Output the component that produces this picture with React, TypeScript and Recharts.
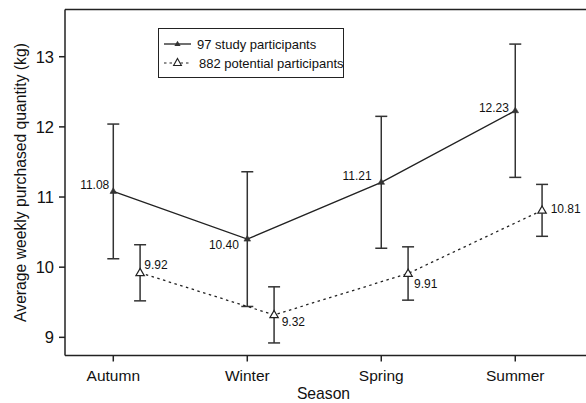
import React from 'react';
import { LineChart, Line, XAxis, YAxis, ErrorBar, Legend, ReferenceLine } from 'recharts';

const seasons = ['Autumn', 'Winter', 'Spring', 'Summer'];
const seasonTicks = [0, 1, 2, 3];
const yTicks = [9, 10, 11, 12, 13];
const seriesNames = ['97 study participants', '882 potential participants'];
const studyMeans = [11.08, 10.4, 11.21, 12.23];
const studyErrors = [0.96, 0.96, 0.94, 0.95];
const potentialMeans = [9.92, 9.32, 9.91, 10.81];
const potentialErrors = [0.4, 0.4, 0.38, 0.37];

const POT_SHIFT = 0.2;
const studyData = studyMeans.map((v, i) => ({ x: seasonTicks[i], y: v, err: studyErrors[i] }));
const potentialData = potentialMeans.map((v, i) => ({ x: seasonTicks[i] + POT_SHIFT, y: v, err: potentialErrors[i] }));

const FONT = '"Liberation Sans", Arial, Helvetica, sans-serif';
const INK = '#222';

// label placement (dx, dy of text centre) relative to each point
const studyLabelOffsets = [[-4, -6.3], [-8.3, 5.3], [-9.6, -6.2], [-6.3, -3.3]];
const potentialLabelOffsets = [[4.2, -8.4], [7.6, 6.9], [5.9, 9.9], [8.6, -1.9]];

const StudyDot = (p: any) => {
  const { cx, cy, index } = p;
  if (cx == null || cy == null) return <g key={`sd${index}`} />;
  const off = studyLabelOffsets[index] || [-5, -6];
  return (
    <g key={`sd${index}`}>
      <path d={`M${cx},${cy - 3.6} L${cx + 3.3},${cy + 2} L${cx - 3.3},${cy + 2} Z`} fill="#333" stroke="#333" strokeWidth={0.6} />
      <text x={cx + off[0]} y={cy + off[1] + 4.3} textAnchor="end" fontSize={12} fill="#111" fontFamily={FONT}>
        {studyMeans[index].toFixed(2)}
      </text>
    </g>
  );
};

const PotentialDot = (p: any) => {
  const { cx, cy, index } = p;
  if (cx == null || cy == null) return <g key={`pd${index}`} />;
  const off = potentialLabelOffsets[index] || [5, -6];
  return (
    <g key={`pd${index}`}>
      <path d={`M${cx},${cy - 4.4} L${cx + 4.2},${cy + 2.8} L${cx - 4.2},${cy + 2.8} Z`} fill="#fff" stroke={INK} strokeWidth={1.2} />
      <text x={cx + off[0]} y={cy + off[1] + 4.3} textAnchor="start" fontSize={12} fill="#111" fontFamily={FONT}>
        {potentialMeans[index].toFixed(2)}
      </text>
    </g>
  );
};

const LegendBox = () => (
  <div style={{ width: 186, height: 50, border: `1.3px solid ${INK}`, boxSizing: 'border-box', background: '#fff' }}>
    <svg width={184} height={48} style={{ display: 'block' }}>
      <line x1={5} y1={15} x2={32} y2={15} stroke={INK} strokeWidth={1.3} />
      <path d="M18.5,11.8 L21.6,17 L15.4,17 Z" fill="#333" />
      <text x={38} y={19.5} fontSize={13} fill="#111" fontFamily={FONT}>{seriesNames[0]}</text>
      <line x1={5} y1={34} x2={32} y2={34} stroke={INK} strokeWidth={1.2} strokeDasharray="2.5 3" />
      <path d="M18.5,29.5 L22.4,36.5 L14.6,36.5 Z" fill="#fff" stroke={INK} strokeWidth={1.1} />
      <text x={40} y={38.5} fontSize={13} fill="#111" fontFamily={FONT}>{seriesNames[1]}</text>
    </svg>
  </div>
);

export default function App() {
  return (
    <div style={{ position: 'fixed', left: 0, top: 0, width: 586, height: 403, overflow: 'hidden', background: '#fff' }}>
      <LineChart width={610} height={403} margin={{ top: 9.5, right: 0, bottom: 0, left: 0 }} style={{ fontFamily: FONT }}>
        <XAxis
          type="number"
          dataKey="x"
          domain={[-0.3604, 3.707]}
          allowDataOverflow
          ticks={seasonTicks}
          interval={0}
          tickFormatter={(v: number) => seasons[v] ?? ''}
          height={47.5}
          tickSize={6}
          tickMargin={8}
          axisLine={{ stroke: INK, strokeWidth: 1.5 }}
          tickLine={{ stroke: INK, strokeWidth: 1.5 }}
          tick={{ fill: '#111', fontSize: 15.5, fontFamily: FONT }}
          label={{ value: 'Season', position: 'insideBottom', offset: 4, dx: -14, fill: '#111', fontSize: 15.7, fontFamily: FONT }}
        />
        <YAxis
          type="number"
          domain={[8.741, 13.673]}
          allowDataOverflow
          ticks={yTicks}
          interval={0}
          width={65}
          tickSize={6}
          tickMargin={5}
          axisLine={{ stroke: INK, strokeWidth: 1.5 }}
          tickLine={{ stroke: INK, strokeWidth: 1.5 }}
          tick={{ fill: '#111', fontSize: 16.5, fontFamily: FONT }}
          label={{
            value: 'Average weekly purchased quantity (kg)',
            angle: -90,
            position: 'insideLeft',
            offset: 20.5,
            fill: '#111',
            fontSize: 15.7,
            fontFamily: FONT,
            style: { textAnchor: 'middle' },
          }}
        />
        <ReferenceLine y={13.673} stroke={INK} strokeWidth={1.5} ifOverflow="visible" />
        <Line
          data={studyData}
          dataKey="y"
          name={seriesNames[0]}
          stroke={INK}
          strokeWidth={1.4}
          dot={StudyDot}
          activeDot={false}
          isAnimationActive={false}
        >
          <ErrorBar dataKey="err" direction="y" width={6} stroke="#333" strokeWidth={1.5} isAnimationActive={false} />
        </Line>
        <Line
          data={potentialData}
          dataKey="y"
          name={seriesNames[1]}
          stroke={INK}
          strokeWidth={1.3}
          strokeDasharray="2.5 3.5"
          dot={PotentialDot}
          activeDot={false}
          isAnimationActive={false}
        >
          <ErrorBar dataKey="err" direction="y" width={6} stroke="#333" strokeWidth={1.5} isAnimationActive={false} />
        </Line>
        <Legend
          layout="vertical"
          align="center"
          verticalAlign="middle"
          content={() => <LegendBox />}
          wrapperStyle={{ position: 'absolute', left: 158, top: 28, width: 186, height: 50 }}
        />
      </LineChart>
    </div>
  );
}
